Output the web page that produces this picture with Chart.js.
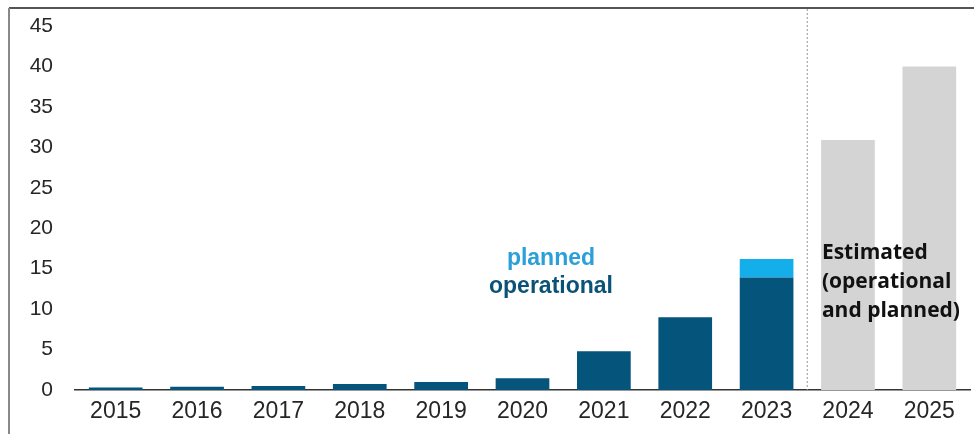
<!DOCTYPE html>
<html>
<head>
<meta charset="utf-8">
<script src="https://cdn.jsdelivr.net/npm/chart.js@4/dist/chart.umd.min.js"></script>
<style>
  html, body { margin: 0; padding: 0; background: #fff; }
  #wrap { width: 974px; height: 434px; position: relative; }
</style>
</head>
<body>
<div id="wrap"><canvas id="chart"></canvas></div>
<script>
const years = ['2015', '2016', '2017', '2018', '2019', '2020', '2021', '2022', '2023', '2024', '2025'];
const operational = [0.3, 0.4, 0.5, 0.75, 1.0, 1.45, 4.8, 9.0, 13.9, null, null];
const planned = [null, null, null, null, null, null, null, null, 2.3, null, null];
const estimated = [null, null, null, null, null, null, null, null, null, 30.9, 40];
const yTicks = [0, 5, 10, 15, 20, 25, 30, 35, 40, 45];

// frame, dotted separator and the text labels
const extras = {
  id: 'extras',
  beforeDatasetsDraw(chart) {
    const { ctx, scales: { x, y } } = chart;
    ctx.save();
    ctx.strokeStyle = '#555';
    ctx.lineWidth = 2;
    ctx.beginPath();
    ctx.moveTo(9, 8);
    ctx.lineTo(974, 8);
    ctx.stroke();
    ctx.strokeStyle = '#888';
    ctx.beginPath();
    ctx.moveTo(9, 8);
    ctx.lineTo(9, 434);
    ctx.stroke();

    const sx = (x.getPixelForValue(8) + x.getPixelForValue(9)) / 2;
    ctx.strokeStyle = '#999';
    ctx.lineWidth = 1;
    ctx.setLineDash([2, 2]);
    ctx.beginPath();
    ctx.moveTo(sx, 9);
    ctx.lineTo(sx, y.getPixelForValue(0));
    ctx.stroke();
    ctx.restore();
  },
  afterDatasetsDraw(chart) {
    const { ctx, scales: { x, y } } = chart;
    ctx.save();
    ctx.textBaseline = 'middle';
    ctx.textAlign = 'center';
    ctx.font = 'bold 23px "Liberation Sans", Arial, sans-serif';
    const cx = x.getPixelForValue(5.35);
    ctx.fillStyle = '#2a9fd8';
    ctx.fillText('planned', cx, y.getPixelForValue(16.2));
    ctx.fillStyle = '#0b5278';
    ctx.fillText('operational', cx, y.getPixelForValue(12.8));

    ctx.textAlign = 'left';
    ctx.fillStyle = '#111';
    ctx.font = 'bold 21px "Open Sans", sans-serif';
    const lx = x.getPixelForValue(8.68);
    ctx.fillText('Estimated', lx, y.getPixelForValue(16.9));
    ctx.fillText('(operational', lx, y.getPixelForValue(13.4));
    ctx.fillText('and planned)', lx, y.getPixelForValue(9.8));
    ctx.restore();
  }
};

new Chart(document.getElementById('chart'), {
  type: 'bar',
  data: {
    labels: years,
    datasets: [
      { label: 'operational', data: operational, backgroundColor: '#04547c' },
      { label: 'planned', data: planned, backgroundColor: '#14aeea' },
      { label: 'estimated', data: estimated, backgroundColor: '#d4d4d4' }
    ]
  },
  options: {
    responsive: true,
    maintainAspectRatio: false,
    animation: false,
    datasets: { bar: { barPercentage: 0.66, categoryPercentage: 1 } },
    layout: { padding: { top: 26, right: 4, left: 0, bottom: 0 } },
    plugins: { legend: { display: false }, tooltip: { enabled: false } },
    scales: {
      x: {
        stacked: true,
        grid: { display: false, drawTicks: false },
        border: { display: true, color: '#333', width: 1.5 },
        ticks: { color: '#262626', padding: 8, font: { family: '"Liberation Sans", Arial, sans-serif', size: 23 } },
        afterFit(s) { s.height = 44; }
      },
      y: {
        stacked: true,
        min: 0,
        max: 45,
        afterBuildTicks(s) { s.ticks = yTicks.map(v => ({ value: v })); },
        grid: { display: false, drawTicks: false },
        border: { display: false },
        ticks: { color: '#262626', padding: 22, font: { family: '"Liberation Sans", Arial, sans-serif', size: 21 } },
        afterFit(s) { s.width = 75; s.paddingTop = 12; s.paddingBottom = 0; }
      }
    }
  },
  plugins: [extras]
});
</script>
</body>
</html>
